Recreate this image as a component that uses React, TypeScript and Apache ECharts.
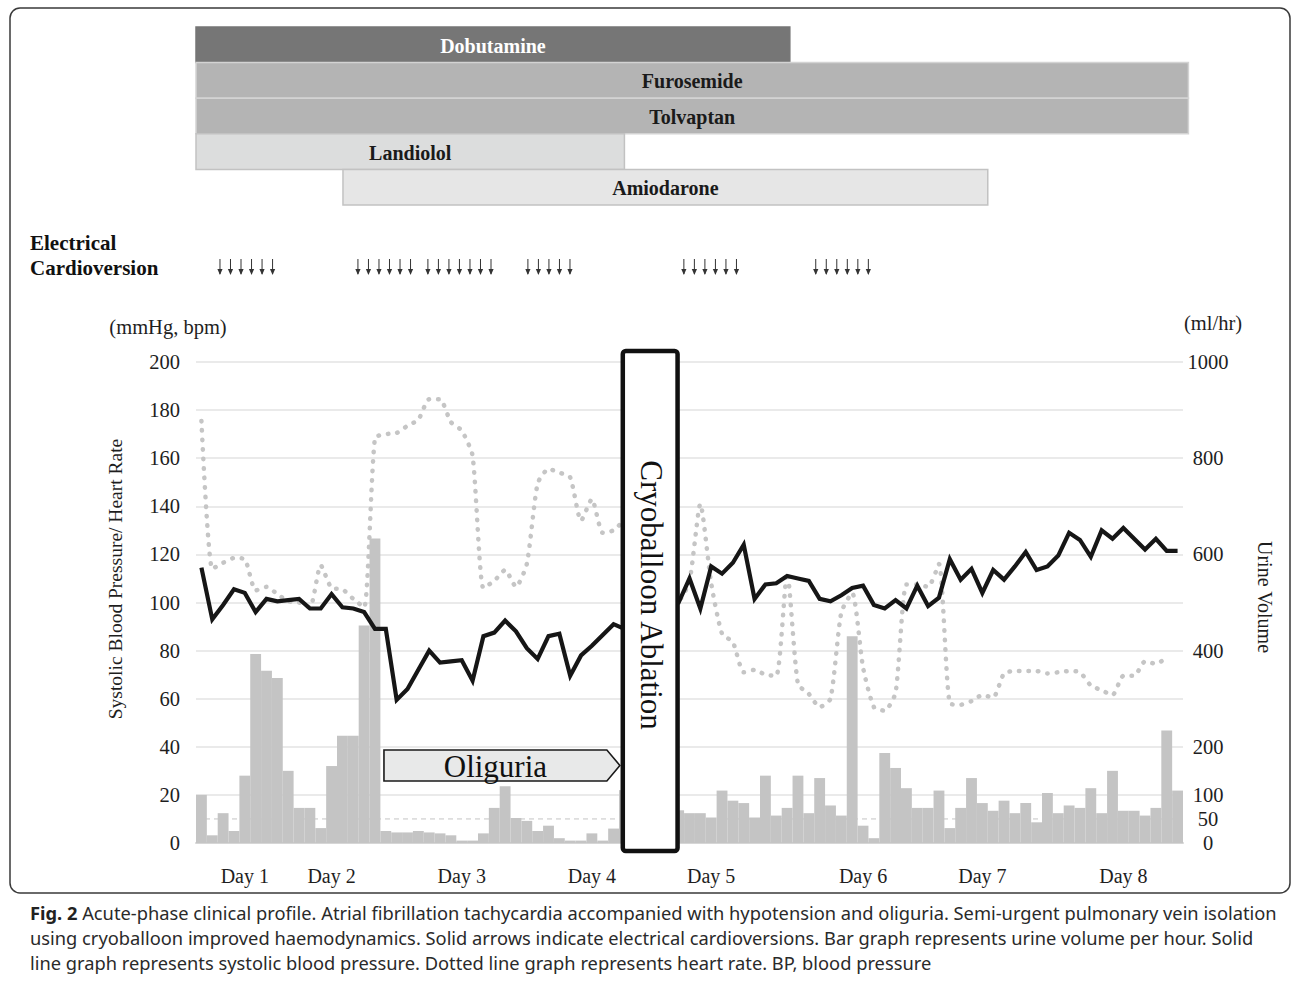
import React, { useEffect, useRef } from "react";
import * as echarts from "echarts";

// ---------- DATA ----------
// time slots (each slot = one bar of the urine histogram)
const slotCount = 91;
const slotNames: string[] = Array.from({ length: slotCount }, (_, i) => "t" + i);

// day tick labels: slot index -> label
const daySlots = [4, 12, 24, 36, 47, 61, 72, 85];
const dayLabels = ["Day 1", "Day 2", "Day 3", "Day 4", "Day 5", "Day 6", "Day 7", "Day 8"];

// urine volume (ml/hr)
const urineVolume = [
  100, 16, 62, 25, 140, 393, 358, 343, 150, 73,
  73, 31, 160, 223, 223, 452, 633, 25, 22, 22,
  25, 22, 20, 16, 5, 5, 20, 73, 118, 52,
  46, 25, 36, 10, 5, 5, 20, 5, 30, 110,
  70, 70, 65, 65, 68, 62, 62, 53, 109, 88,
  83, 53, 140, 57, 73, 140, 62, 135, 78, 57,
  430, 36, 10, 187, 156, 114, 73, 73, 109, 31,
  73, 135, 83, 67, 88, 62, 83, 43, 104, 62,
  78, 73, 114, 62, 150, 67, 67, 57, 73, 234,
  109,
];

// systolic blood pressure (mmHg)
const systolicBP = [
  114.5, 93, 99, 105.5, 104, 96, 101.5, 100.5, 101, 101.5,
  97.5, 97.5, 103.5, 98, 97.5, 96, 89, 89, 59.5, 64,
  72, 80, 75, 75.5, 76, 67.5, 86, 87.5, 92.5, 88,
  81, 76.5, 86, 87, 69.5, 78, 82, 86.5, 91, 89,
  92, 95, 98, 100, 100, 110, 97.5, 115, 112, 116.5,
  124, 101.5, 107.5, 108, 111, 110, 109, 101.5, 100.5, 103,
  106, 107, 99, 97.5, 101, 97.5, 107, 98.5, 102, 118,
  109.5, 114, 104, 113.5, 109.5, 115, 121, 113.5, 115, 119.5,
  129, 126, 119, 130, 126.5, 131, 126.5, 122, 126.5, 121.5,
  121.5,
];

// heart rate (bpm)
const heartRate = [
  175.5, 114, 116.5, 118.5, 118, 105, 106.5, 103.5, 100.5, 100,
  98, 115.5, 106, 105.5, 101.5, 98, 168.5, 170, 170.5, 173.5,
  176, 184.5, 184.5, 175, 171.5, 161, 106, 109, 113.5, 106.5,
  116, 149.5, 155.5, 154, 152, 134, 143, 129, 130, 134,
  120, 110, 104, 101, 101, 109, 141, 108, 87, 83.5,
  71, 72, 70, 69.5, 112.5, 66, 62, 56.5, 60, 96,
  104, 73, 56.5, 55, 62.5, 107.5, 107.5, 106.5, 116, 58,
  57.5, 59, 61.5, 60.5, 70.5, 71.5, 71.5, 71.5, 70.5, 71,
  71.5, 71, 65.5, 63.5, 61.5, 69.5, 69.5, 75.5, 74.5, 77,
  null,
];

// urine reference line (ml/hr)
const urineReference = 50;

// right axis tick labels
const rightAxisLabels = [0, 50, 100, 200, 400, 600, 800, 1000];

// drug administration periods (in slot units)
const drugNames = ["Dobutamine", "Furosemide", "Tolvaptan", "Landiolol", "Amiodarone"];
const drugStart = [0, 0, 0, 0, 13.55];
const drugEnd = [54.75, 91.5, 91.5, 39.5, 73.0];

// electrical cardioversions (slot units)
const cardioversions = [
  2.21, 3.18, 4.15, 5.12, 6.09, 7.06,
  14.93, 15.9, 16.87, 17.84, 18.81, 19.78,
  21.38, 22.35, 23.32, 24.29, 25.26, 26.23, 27.2,
  30.6, 31.57, 32.54, 33.51, 34.48,
  44.98, 45.95, 46.92, 47.89, 48.86, 49.83,
  57.14, 58.11, 59.08, 60.05, 61.02, 61.99,
];

// annotations (slot units)
const oliguriaPeriod = [17.33, 39.08];
const ablationPeriod = [39.35, 44.4];

const captionLines = [
  "{b|Fig. 2} Acute-phase clinical profile. Atrial fibrillation tachycardia accompanied with hypotension and oliguria. Semi-urgent pulmonary vein isolation",
  "using cryoballoon improved haemodynamics. Solid arrows indicate electrical cardioversions. Bar graph represents urine volume per hour. Solid",
  "line graph represents systolic blood pressure. Dotted line graph represents heart rate. BP, blood pressure",
];

// ---------- STYLE ----------
const SERIF = '"Liberation Serif", "Times New Roman", serif';
const SANS = '"Noto Sans", "Open Sans", sans-serif';
const CAPTION_SIZE = 18.3;
const drugFill = ["#767676", "#b4b4b4", "#b4b4b4", "#dcdddd", "#e6e6e6"];
const drugStroke = ["#767676", "#d3d3d3", "#d3d3d3", "#c2c2c2", "#c2c2c2"];
const drugTextColor = ["#ffffff", "#1a1a1a", "#1a1a1a", "#1a1a1a", "#1a1a1a"];

const GRID_LEFT = 196;
const GRID_WIDTH = 987;
const GRID_TOP = 362;
const GRID_HEIGHT = 481;

export default function App() {
  const ref = useRef<HTMLDivElement>(null);

  useEffect(() => {
    if (!ref.current) return;
    const chart = echarts.init(ref.current, null, { renderer: "svg" });

    const dayMap: Record<number, string> = {};
    daySlots.forEach((s, i) => (dayMap[s] = dayLabels[i]));

    const option: any = {
      animation: false,
      backgroundColor: "#ffffff",
      grid: [
        { left: GRID_LEFT, width: GRID_WIDTH, top: GRID_TOP, height: GRID_HEIGHT },
        { left: GRID_LEFT, width: GRID_WIDTH, top: 27, height: 178 },
      ],
      xAxis: [
        {
          type: "category",
          gridIndex: 0,
          data: slotNames,
          boundaryGap: true,
          axisTick: { show: false },
          axisLine: { lineStyle: { color: "#d6d6d6", width: 2 } },
          axisLabel: {
            interval: 0,
            margin: 23,
            formatter: (_v: string, i: number) => dayMap[i] ?? "",
            fontFamily: SERIF,
            fontSize: 20,
            color: "#1e1e1e",
          },
          splitLine: { show: false },
        },
        { type: "value", gridIndex: 0, min: 0, max: slotCount, show: false },
        { type: "value", gridIndex: 1, min: 0, max: slotCount, show: false },
      ],
      yAxis: [
        {
          type: "value",
          gridIndex: 0,
          min: 0,
          max: 200,
          interval: 20,
          axisLine: { show: false },
          axisTick: { show: false },
          axisLabel: { margin: 16, fontFamily: SERIF, fontSize: 20.5, color: "#1e1e1e" },
          splitLine: { lineStyle: { color: "#e3e3e3", width: 1.5 } },
        },
        {
          type: "value",
          gridIndex: 0,
          position: "right",
          min: 0,
          max: 1000,
          interval: 50,
          axisLine: { show: false },
          axisTick: { show: false },
          splitLine: { show: false },
          axisLabel: {
            margin: 25,
            align: "center",
            fontFamily: SERIF,
            fontSize: 20.5,
            color: "#1e1e1e",
            formatter: (v: number) => (rightAxisLabels.includes(v) ? String(v) : ""),
          },
        },
        {
          type: "category",
          gridIndex: 1,
          data: drugNames,
          inverse: true,
          show: false,
        },
      ],
      series: [
        {
          type: "line",
          name: "reference",
          xAxisIndex: 1,
          yAxisIndex: 1,
          data: [
            [0, urineReference],
            [slotCount, urineReference],
          ],
          symbol: "none",
          silent: true,
          z: 1,
          lineStyle: { color: "#c4c4c4", width: 1, type: [5, 4] },
        },
        {
          type: "bar",
          name: "Urine Volume",
          xAxisIndex: 0,
          yAxisIndex: 1,
          data: urineVolume,
          barWidth: "100%",
          barCategoryGap: 0,
          itemStyle: { color: "#c4c4c4" },
          z: 2,
        },
        {
          type: "line",
          name: "Heart Rate",
          xAxisIndex: 0,
          yAxisIndex: 0,
          data: heartRate,
          symbol: "none",
          smooth: 0.2,
          z: 3,
          lineStyle: { color: "#c5c5c5", width: 4.5, type: [0.5, 9], cap: "round" },
        },
        {
          type: "line",
          name: "Systolic BP",
          xAxisIndex: 0,
          yAxisIndex: 0,
          data: systolicBP,
          symbol: "none",
          z: 4,
          lineStyle: { color: "#161616", width: 4.2, join: "miter" },
        },
        {
          type: "custom",
          name: "Oliguria",
          xAxisIndex: 1,
          yAxisIndex: 0,
          z: 5,
          data: [oliguriaPeriod],
          encode: { x: [0, 1] },
          renderItem: (params: any, api: any) => {
            const top = 38.7;
            const bottom = 25.8;
            const mid = (top + bottom) / 2;
            const x0 = api.coord([api.value(0), top]);
            const x1 = api.coord([api.value(1), bottom]);
            const tip = api.coord([api.value(1), mid]);
            const bodyEnd = x1[0] - 13;
            return {
              type: "group",
              children: [
                {
                  type: "polygon",
                  shape: {
                    points: [
                      [x0[0], x0[1]],
                      [bodyEnd, x0[1]],
                      [tip[0], tip[1]],
                      [bodyEnd, x1[1]],
                      [x0[0], x1[1]],
                    ],
                  },
                  style: { fill: "#e8e9e9", stroke: "#1a1a1a", lineWidth: 1.6 },
                },
                {
                  type: "text",
                  x: (x0[0] + bodyEnd) / 2,
                  y: tip[1] + 1,
                  style: {
                    text: "Oliguria",
                    font: `31px ${SERIF}`,
                    fill: "#111",
                    align: "center",
                    verticalAlign: "middle",
                  },
                },
              ],
            };
          },
        },
        {
          type: "custom",
          name: "Cryoballoon Ablation",
          xAxisIndex: 1,
          yAxisIndex: 0,
          z: 10,
          data: [ablationPeriod],
          encode: { x: [0, 1] },
          renderItem: (params: any, api: any) => {
            const cs = params.coordSys;
            const a = api.coord([api.value(0), 0]);
            const b = api.coord([api.value(1), 0]);
            const top = cs.y - 11;
            const bottom = cs.y + cs.height + 8;
            return {
              type: "group",
              children: [
                {
                  type: "rect",
                  shape: { x: a[0], y: top, width: b[0] - a[0], height: bottom - top, r: 3 },
                  style: { fill: "#ffffff", stroke: "#111111", lineWidth: 4.5 },
                },
                {
                  type: "text",
                  x: (a[0] + b[0]) / 2 + 1,
                  y: 595,
                  rotation: -Math.PI / 2,
                  style: {
                    text: "Cryoballoon Ablation",
                    font: `31px ${SERIF}`,
                    fill: "#111",
                    align: "center",
                    verticalAlign: "middle",
                  },
                },
              ],
            };
          },
        },
        {
          type: "custom",
          name: "Drugs",
          xAxisIndex: 2,
          yAxisIndex: 2,
          z: 2,
          data: drugNames.map((_, i) => [drugStart[i], drugEnd[i], i]),
          encode: { x: [0, 1], y: 2 },
          renderItem: (params: any, api: any) => {
            const idx = params.dataIndex;
            const row = api.value(2);
            const s = api.coord([api.value(0), row]);
            const e = api.coord([api.value(1), row]);
            const h = api.size([0, 1])[1];
            return {
              type: "group",
              children: [
                {
                  type: "rect",
                  shape: { x: s[0], y: s[1] - h / 2, width: e[0] - s[0], height: h },
                  style: { fill: drugFill[idx], stroke: drugStroke[idx], lineWidth: 1.5 },
                },
                {
                  type: "text",
                  x: (s[0] + e[0]) / 2,
                  y: s[1] + 1,
                  style: {
                    text: drugNames[idx],
                    font: `bold 20px ${SERIF}`,
                    fill: drugTextColor[idx],
                    align: "center",
                    verticalAlign: "middle",
                  },
                },
              ],
            };
          },
        },
        {
          type: "custom",
          name: "Electrical Cardioversion",
          xAxisIndex: 2,
          yAxisIndex: 2,
          z: 2,
          data: cardioversions.map((c) => [c, 0]),
          encode: { x: 0 },
          renderItem: (params: any, api: any) => {
            const cs = params.coordSys;
            const p = api.coord([api.value(0), 0]);
            const x = p[0];
            const y0 = cs.y + cs.height + 54;
            const y1 = y0 + 16;
            return {
              type: "group",
              children: [
                {
                  type: "line",
                  shape: { x1: x, y1: y0, x2: x, y2: y1 - 1 },
                  style: { stroke: "#333", lineWidth: 1 },
                },
                {
                  type: "polygon",
                  shape: { points: [[x - 2.6, y1 - 6], [x + 2.6, y1 - 6], [x, y1]] },
                  style: { fill: "#333" },
                },
              ],
            };
          },
        },
      ],
      graphic: [
        {
          type: "rect",
          shape: { x: 10, y: 8, width: 1280, height: 885, r: 10 },
          style: { fill: "none", stroke: "#3a3a3a", lineWidth: 1.5 },
          silent: true,
        },
        {
          type: "text",
          x: 30,
          y: 243,
          style: { text: "Electrical", font: `bold 21px ${SERIF}`, fill: "#111", verticalAlign: "middle" },
        },
        {
          type: "text",
          x: 30,
          y: 268,
          style: { text: "Cardioversion", font: `bold 21px ${SERIF}`, fill: "#111", verticalAlign: "middle" },
        },
        {
          type: "text",
          x: 168,
          y: 327,
          style: { text: "(mmHg, bpm)", font: `20.5px ${SERIF}`, fill: "#1e1e1e", align: "center", verticalAlign: "middle" },
        },
        {
          type: "text",
          x: 1213,
          y: 323,
          style: { text: "(ml/hr)", font: `20.5px ${SERIF}`, fill: "#1e1e1e", align: "center", verticalAlign: "middle" },
        },
        {
          type: "text",
          x: 115,
          y: 579,
          rotation: Math.PI / 2,
          style: {
            text: "Systolic Blood Pressure/ Heart Rate",
            font: `19.5px ${SERIF}`,
            fill: "#1e1e1e",
            align: "center",
            verticalAlign: "middle",
          },
        },
        {
          type: "text",
          x: 1265,
          y: 597,
          rotation: -Math.PI / 2,
          style: { text: "Urine Volume", font: `20px ${SERIF}`, fill: "#1e1e1e", align: "center", verticalAlign: "middle" },
        },
        ...captionLines.map((t, i) => ({
          type: "text",
          x: 30,
          y: 912 + i * 25,
          style: {
            text: t,
            font: `${CAPTION_SIZE}px ${SANS}`,
            fill: "#2a2a2a",
            verticalAlign: "middle",
            rich: { b: { fontWeight: "bold", fontSize: CAPTION_SIZE, fontFamily: SANS, fill: "#222" } },
          },
        })),
      ],
    };

    chart.setOption(option);
    return () => chart.dispose();
  }, []);

  return (
    <div
      ref={ref}
      style={{ position: "absolute", left: 0, top: 0, width: 1292, height: 982 }}
    />
  );
}
